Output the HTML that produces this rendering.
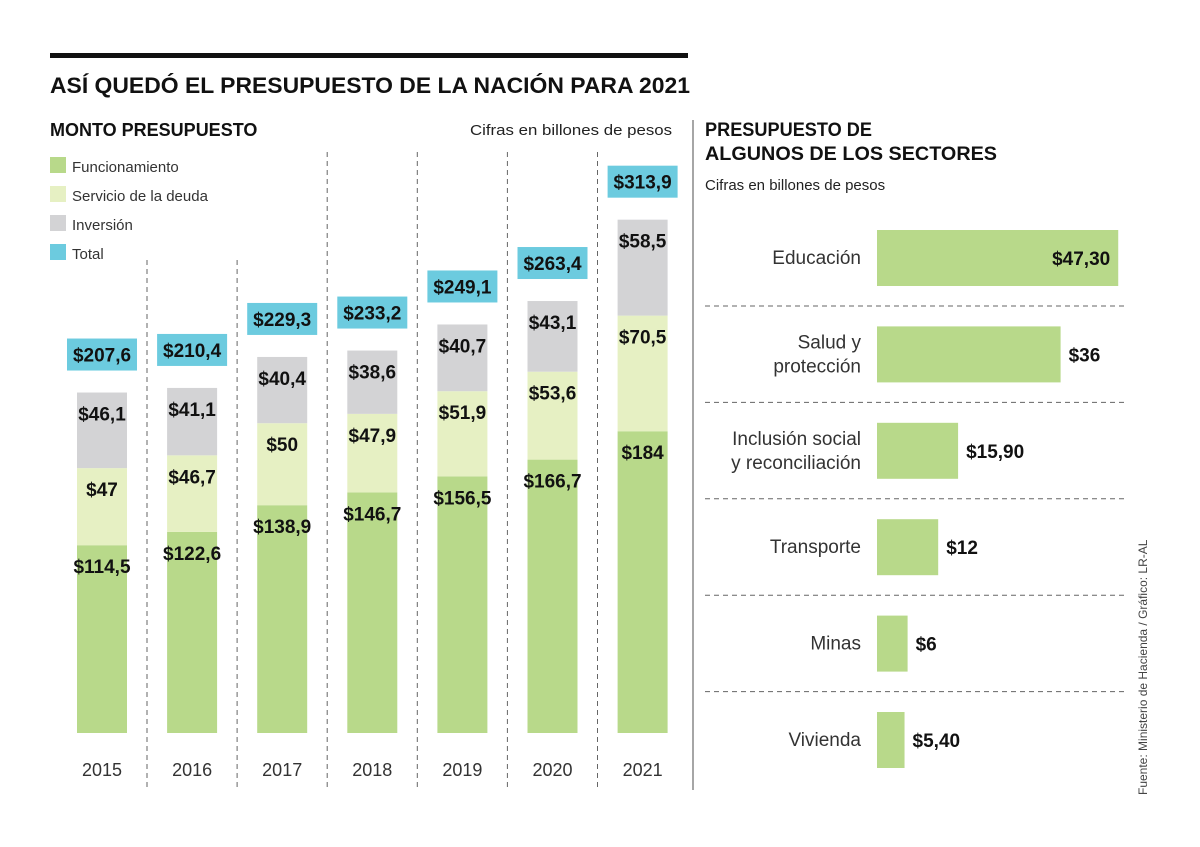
<!DOCTYPE html>
<html><head><meta charset="utf-8">
<style>
body{margin:0;background:#fff;font-family:"Liberation Sans",sans-serif;}
svg text{font-family:"Liberation Sans",sans-serif;}
</style></head>
<body>
<svg id="c" width="1200" height="842" viewBox="0 0 1200 842" xmlns="http://www.w3.org/2000/svg">
<rect x="50" y="53" width="638" height="5" fill="#111"/>
<text x="50" y="93" font-size="22" font-weight="bold" fill="#111" textLength="640" lengthAdjust="spacingAndGlyphs">ASÍ QUEDÓ EL PRESUPUESTO DE LA NACIÓN PARA 2021</text>
<text x="50" y="136" font-size="18" font-weight="bold" fill="#111">MONTO PRESUPUESTO</text>
<text x="470" y="135" font-size="15" fill="#222" textLength="202" lengthAdjust="spacingAndGlyphs">Cifras en billones de pesos</text>
<g>
<rect x="50" y="157" width="16" height="16" fill="#b8d98a"/>
<text x="72" y="172" font-size="15" fill="#333">Funcionamiento</text>
<rect x="50" y="186" width="16" height="16" fill="#e6f0c3"/>
<text x="72" y="201" font-size="15" fill="#333">Servicio de la deuda</text>
<rect x="50" y="215" width="16" height="16" fill="#d3d3d5"/>
<text x="72" y="230" font-size="15" fill="#333">Inversión</text>
<rect x="50" y="244" width="16" height="16" fill="#6ccbdf"/>
<text x="72" y="259" font-size="15" fill="#333">Total</text>
</g>
<line x1="693" y1="120" x2="693" y2="790" stroke="#888" stroke-width="1.5"/>
<text x="705" y="136" font-size="19" font-weight="bold" fill="#111" textLength="167" lengthAdjust="spacingAndGlyphs">PRESUPUESTO DE</text>
<text x="705" y="160" font-size="19" font-weight="bold" fill="#111" textLength="292" lengthAdjust="spacingAndGlyphs">ALGUNOS DE LOS SECTORES</text>
<text x="705" y="190" font-size="15" fill="#222">Cifras en billones de pesos</text>
<text transform="translate(1147,795) rotate(-90)" font-size="12" fill="#444">Fuente: Ministerio de Hacienda / Gráfico: LR-AL</text>
<g id="stack"></g>
<g id="hbars"></g>
</svg>
<script>
const years=["2015","2016","2017","2018","2019","2020","2021"];
const funcionamiento=[114.5,122.6,138.9,146.7,156.5,166.7,184];
const deuda=[47,46.7,50,47.9,51.9,53.6,70.5];
const inversion=[46.1,41.1,40.4,38.6,40.7,43.1,58.5];
const totals=[207.6,210.4,229.3,233.2,249.1,263.4,313.9];
const sectors=["Educación","Salud y|protección","Inclusión social|y reconciliación","Transporte","Minas","Vivienda"];
const sectorValues=[47.30,36,15.90,12,6,5.40];
const sectorLabels=["$47,30","$36","$15,90","$12","$6","$5,40"];

const NS="http://www.w3.org/2000/svg";
function mk(t,a,p){const e=document.createElementNS(NS,t);for(const k in a)e.setAttribute(k,a[k]);p.appendChild(e);return e;}
const fmt=v=>"$"+String(v).replace(".",",");
const base=733, k=1.64;
const y=v=>base-v*k;
const xc=i=>102+i*90.1;
const g=document.getElementById("stack");
for(let i=0;i<years.length-1;i++){
  const ln=mk("line",{x1:xc(i)+45,x2:xc(i)+45,y1:i<2?260:152,y2:790,stroke:"#666","stroke-dasharray":"5,4"},g);
  
  
}
years.forEach((yr,i)=>{
  const x=xc(i)-25;
  const segs=[[funcionamiento[i],"#b8d98a","funcionamiento"],[deuda[i],"#e6f0c3","deuda"],[inversion[i],"#d3d3d5","inversion"]];
  let acc=0;
  segs.forEach(s=>{
    const r=mk("rect",{x:x,y:y(acc+s[0]),width:50,height:s[0]*k,fill:s[1]},g);
    
    
    const t=mk("text",{x:xc(i),y:y(acc+s[0])+28,"font-size":19,"font-weight":"bold","text-anchor":"middle",fill:"#111"},g);
    t.textContent=fmt(s[0]);
    
    
    acc+=s[0];
  });
  const top=y(acc);
  const b=mk("rect",{x:xc(i)-35,y:top-54,width:70,height:32,fill:"#6ccbdf"},g);
  
  
  const tt=mk("text",{x:xc(i),y:top-31,"font-size":19,"font-weight":"bold","text-anchor":"middle",fill:"#111"},g);
  tt.textContent=fmt(totals[i]);
  
  
  const yl=mk("text",{x:xc(i),y:776,"font-size":18,"text-anchor":"middle",fill:"#333"},g);
  yl.textContent=yr;
  
  
});
const h=document.getElementById("hbars");
const hx=877, hk=5.1;
sectors.forEach((s,i)=>{
  const cy=258+i*96.4;
  const r=mk("rect",{x:hx,y:cy-28,width:sectorValues[i]*hk,height:56,fill:"#b8d98a"},h);
  
  
  const inside=i===0;
  const v=mk("text",{x:inside?hx+sectorValues[i]*hk-8:hx+sectorValues[i]*hk+8,y:cy+7,"font-size":19,"font-weight":"bold","text-anchor":inside?"end":"start",fill:"#111"},h);
  v.textContent=sectorLabels[i];
  
  
  const lines=s.split("|");
  lines.forEach((l,j)=>{
    const t=mk("text",{x:861,y:cy+6+(j-(lines.length-1)/2)*24,"font-size":19,"text-anchor":"end",fill:"#333"},h);
    t.textContent=l;
    
    
  });
  if(i<sectors.length-1){
    const d=mk("line",{x1:705,x2:1127,y1:cy+48,y2:cy+48,stroke:"#666","stroke-dasharray":"5,4"},h);
    
    
  }
});
</script>
</body></html>
